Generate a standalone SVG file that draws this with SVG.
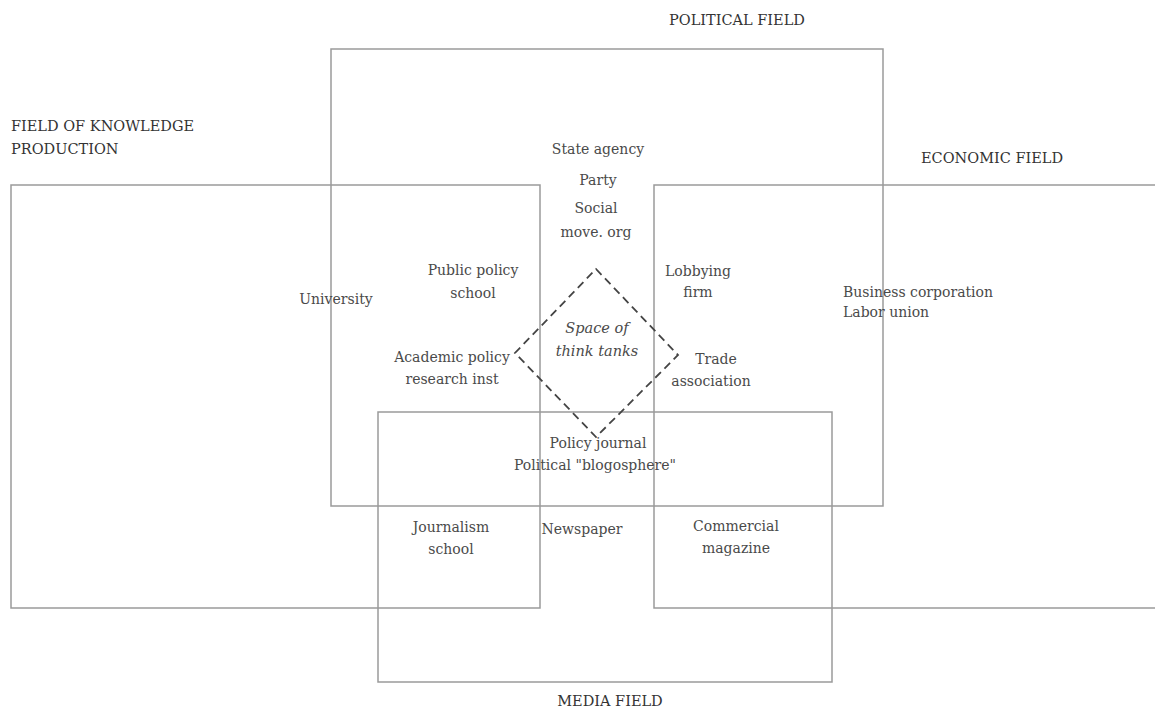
<svg xmlns="http://www.w3.org/2000/svg" width="1155" height="713" viewBox="0 0 1155 713">
<style>
.field{fill:none;stroke:#9a9a9a;stroke-width:1.5}
text{font-family:"DejaVu Serif","Liberation Serif",serif;font-size:14px;fill:#4a4a4a}
.t{font-size:14.5px;fill:#333}
.m{text-anchor:middle}
.i{font-style:italic;font-size:14.5px}
.dash{fill:none;stroke:#444;stroke-width:1.8;stroke-dasharray:8 5}
</style>
<rect width="1155" height="713" fill="#fff"/>
<g id="fields">
<g id="political"><rect class="field" x="331" y="49" width="552" height="457"/><text class="t m" x="737" y="25">POLITICAL FIELD</text></g>
<g id="knowledge"><rect class="field" x="11" y="185" width="529" height="423"/><text class="t" x="11" y="131">FIELD OF KNOWLEDGE</text><text class="t" x="11" y="154">PRODUCTION</text></g>
<g id="economic"><path class="field" d="M1160 185 H654 V608 H1160"/><text class="t" x="921" y="163">ECONOMIC FIELD</text></g>
<g id="media"><rect class="field" x="378" y="412" width="454" height="270"/><text class="t m" x="610" y="706">MEDIA FIELD</text></g>
</g>
<g id="connectors">
<path class="dash" d="M596 269 L678 355 L596 437 L515 353 Z"/>
</g>
<g id="state-agency"><text class="m" x="598" y="154">State agency</text></g>
<g id="party"><text class="m" x="598" y="185">Party</text></g>
<g id="social-movement"><text class="m" x="596" y="213">Social</text><text class="m" x="596" y="237">move. org</text></g>
<g id="public-policy-school"><text class="m" x="473" y="275">Public policy</text><text class="m" x="473" y="298">school</text></g>
<g id="university"><text class="m" x="336" y="304">University</text></g>
<g id="academic-policy"><text class="m" x="452" y="362">Academic policy</text><text class="m" x="452" y="384">research inst</text></g>
<g id="think-tanks"><text class="m i" x="597" y="333">Space of</text><text class="m i" x="597" y="356">think tanks</text></g>
<g id="lobbying"><text class="m" x="698" y="276">Lobbying</text><text class="m" x="698" y="297">firm</text></g>
<g id="trade"><text class="m" x="716" y="364">Trade</text><text class="m" x="711" y="386">association</text></g>
<g id="business"><text x="843" y="297">Business corporation</text><text x="843" y="317">Labor union</text></g>
<g id="policy-journal"><text class="m" x="598" y="448">Policy journal</text><text class="m" x="595" y="470">Political "blogosphere"</text></g>
<g id="journalism-school"><text class="m" x="451" y="532">Journalism</text><text class="m" x="451" y="554">school</text></g>
<g id="newspaper"><text class="m" x="582" y="534">Newspaper</text></g>
<g id="commercial-magazine"><text class="m" x="736" y="531">Commercial</text><text class="m" x="736" y="553">magazine</text></g>
</svg>
